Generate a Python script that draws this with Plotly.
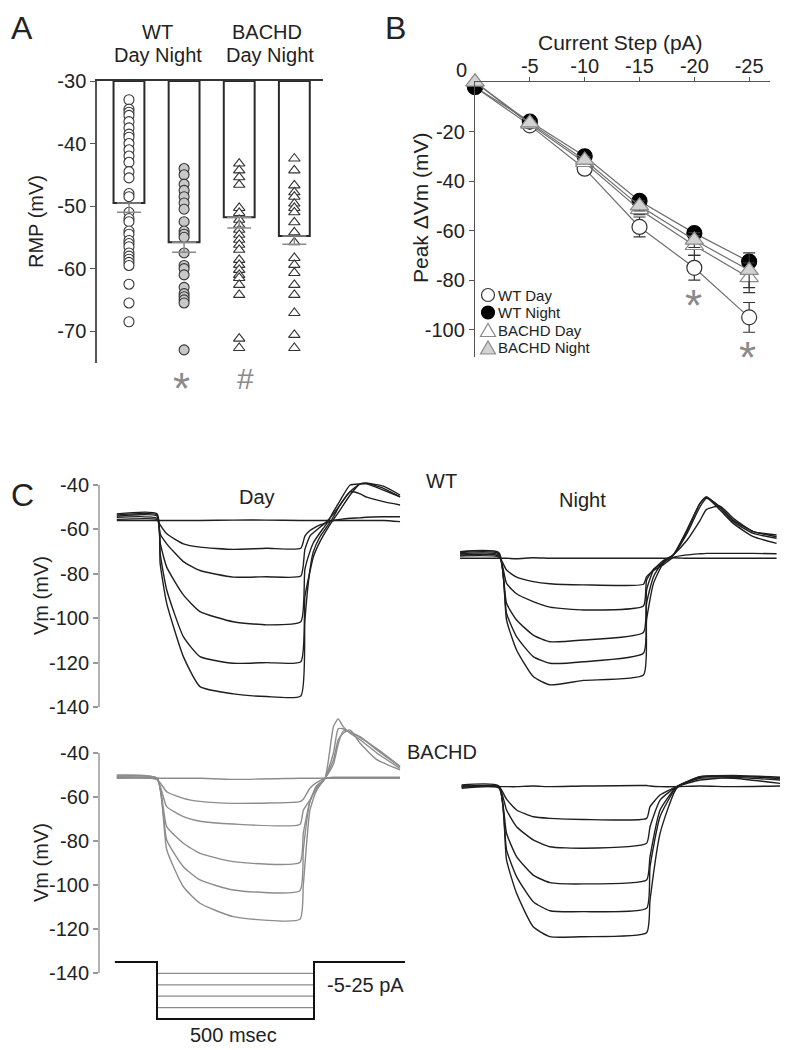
import plotly.graph_objects as go

W, H = 793, 1050
FONT = "Liberation Sans, Arial, sans-serif"
PAGE_OFFSET = 8  # default page margin of the html body


def dx(px):
    return (px - PAGE_OFFSET) / W


def dy(py):
    return 1 - (py - PAGE_OFFSET) / H


# ---------------- Panel A data ----------------
GROUPS = ["WT Day", "WT Night", "BACHD Day", "BACHD Night"]
RMP_MEAN = [-49.5, -55.8, -51.8, -54.8]
RMP_SEM = [1.5, 1.6, 1.7, 1.3]
WT_DAY_PTS = [-33, -34.5, -35, -35.5, -36.5, -37.5, -38.5, -39, -40, -41, -42, -43, -44.5,
              -45.5, -48, -48.5, -51, -52, -52.5, -54, -54.5, -55.5, -56, -56.5, -57.5, -58,
              -58.5, -59, -59.5, -62.5, -65.5, -68.5]
WT_NIGHT_PTS = [-44, -45, -46.5, -47.5, -48.5, -49.5, -50.5, -52.5, -54, -54.5, -55, -57.5,
                -59.5, -60, -61, -63, -64, -64.5, -65, -65.5, -73]
BACHD_DAY_PTS = [-43.2, -44.3, -45.4, -46.6, -50.3, -51.1, -52.2, -53, -53.8, -54.6, -55.4,
                 -56.2, -57, -58.6, -59.4, -60.2, -61, -61.5, -62.6, -64.2, -71.2, -72.7]
BACHD_NIGHT_PTS = [-42.4, -44.3, -46.7, -47.8, -48.5, -49.6, -50.3, -51, -52.6, -54.2, -55.8,
                   -58.3, -59.4, -60.7, -62.6, -64.2, -67.1, -70.6, -72.7]
RMP_TOP = -30
RMP_TICKS = [-30, -40, -50, -60, -70]

# ---------------- Panel B data ----------------
STEPS = [0, -5, -10, -15, -20, -25]
WT_DAY_B = [-2, -17.5, -35, -58.5, -75, -95]
WT_DAY_B_SE = [0, 1, 2, 4, 5, 6]
WT_NIGHT_B = [-2, -16, -30, -48, -61, -72.5]
WT_NIGHT_B_SE = [0, 1, 1, 1.5, 1.5, 2]
BACHD_DAY_B = [0, -17, -32.5, -51.5, -66, -79]
BACHD_DAY_B_SE = [0, 1, 1.5, 2, 4, 6]
BACHD_NIGHT_B = [0, -16.5, -31.5, -50, -63.8, -76]
BACHD_NIGHT_B_SE = [0, 1, 1.5, 2, 3, 7]
B_XTICKS = [-5, -10, -15, -20, -25]
B_YTICKS = [-20, -40, -60, -80, -100]

# ---------------- Panel C data (time in ms, Vm in mV) ----------------
C_YTICKS = [-40, -60, -80, -100, -120, -140]

T_WT_DAY = [-128, 0, 10, 31, 84, 137, 243, 349, 458, 471, 487, 498, 519, 540, 562, 583, 615,
            647, 668, 721, 774]
VM_WT_DAY = [
    [-56, -56, -56, -56, -56, -56, -55.8, -55.8, -56, -56, -56, -56, -56, -56, -56, -56, -56, -56, -56, -56, -56.5],
    [-55.5, -55.5, -58, -62, -66.5, -68, -69, -68.5, -68.5, -63, -60.5, -59.5, -58, -57, -56, -55.5, -55, -54.8, -54.5, -54.3, -54.3],
    [-54.5, -55, -62, -66.5, -74.5, -78.5, -81.5, -81.3, -81, -69, -63, -61.5, -59, -56.5, -53, -49, -43, -44, -45.5, -47.5, -49],
    [-54, -54, -66, -77, -89.5, -97, -101.6, -103, -101.6, -78, -70, -66, -61.5, -57.5, -52, -47, -40, -39.5, -39.5, -42.3, -45.3],
    [-53.5, -53.5, -70.8, -87.3, -108.3, -117.3, -120.3, -120, -119.6, -90.3, -79, -72.3, -65.5, -60.3, -55.5, -51.3, -44.5, -39.5, -39.2, -41.5, -45.3],
    [-53, -53, -75.3, -93.3, -117.3, -130.8, -134.1, -135.3, -135, -101, -78.3, -70, -63.3, -59, -54.3, -49, -43, -39.5, -39.2, -40.5, -44.5],
]

T_WT_NIGHT = [-124, 0, 24, 56, 109, 162, 269, 460, 470, 492, 523, 555, 598, 640, 661, 704,
              746, 810, 884]
VM_WT_NIGHT = [
    [-73, -73, -73, -73.2, -72.8, -73, -73, -73, -73, -73, -73, -72.8, -73, -73, -73, -73, -73, -73, -73],
    [-72, -72.5, -78.3, -81.5, -83.5, -84.5, -85, -84.7, -81.3, -78.5, -76, -72.6, -71.5, -71, -70.8, -70.8, -70.8, -70.8, -71],
    [-71.5, -72, -84.3, -89, -92.5, -95, -96.3, -94.5, -82.8, -78, -75, -71.5, -65, -56, -51, -49.5, -55, -61, -62.5],
    [-71, -71.5, -93.3, -100.8, -107.6, -110.6, -109.8, -106.4, -87.3, -78.3, -74, -71.5, -62, -49.8, -46, -49.8, -55.8, -61, -63.3],
    [-70.5, -71, -97.8, -108.3, -117.3, -120.3, -119.6, -115.8, -93.3, -81.3, -74.5, -71.5, -60.3, -48.3, -45.3, -50.5, -56.5, -61.8, -64],
    [-70, -70.5, -100.8, -114.3, -126.3, -130, -128, -125.6, -100.8, -84.3, -75.3, -71.5, -61, -48.3, -45.6, -51.3, -57.3, -63.3, -66.3],
]

T_BACHD_DAY = [-128, 0, 31, 84, 137, 243, 455, 466, 487, 508, 535, 562, 577, 593, 615, 647,
               700, 774]
VM_BACHD_DAY = [
    [-51, -51.5, -51.5, -51.5, -51.5, -52, -51.5, -51.5, -51.5, -51.5, -51.5, -51.5, -51.5, -51.5, -51.5, -51.5, -51.5, -51.5],
    [-51.5, -52, -57.6, -60.6, -62, -62.9, -62.1, -61, -56, -53.5, -51.5, -51, -51, -51, -51, -51, -51, -51],
    [-51, -52, -64.4, -68.9, -71, -72.3, -72.5, -66, -61.4, -56, -51.5, -45, -36, -30, -30.5, -33, -38, -46],
    [-50.5, -51.5, -73.5, -81, -85.6, -89.4, -89.8, -76.5, -62, -56, -51.5, -40, -29, -29, -30.5, -32.6, -38.6, -46.2],
    [-50.5, -51.5, -79.5, -91.7, -97.7, -102.3, -102.6, -84, -62, -55, -51.5, -28, -24.5, -28, -31, -34, -40, -47],
    [-50, -51.5, -84, -100.8, -108.3, -114.4, -115.6, -100, -66, -57, -51.5, -43.2, -34, -31, -29.5, -35.6, -43, -47.7],
]

T_BACHD_NIGHT = [-119, 0, 24, 56, 109, 162, 269, 470, 481, 513, 566, 640, 746, 895]
VM_BACHD_NIGHT = [
    [-55, -55.3, -55.3, -55.3, -55, -55.3, -55, -54.8, -55, -55.3, -55.3, -55, -55.3, -55],
    [-55, -55.3, -61, -65.9, -69, -69.7, -70.2, -69.7, -64.4, -59.1, -55.3, -52.3, -51.1, -52.3],
    [-55.5, -55.5, -65.9, -73.5, -79.5, -82.6, -83.3, -81, -73.5, -61.4, -55.3, -51.5, -51.5, -53.8],
    [-56, -56, -76.5, -87.1, -95.5, -98.9, -99.5, -97.7, -87.1, -65.9, -55.3, -50.8, -50.5, -51.5],
    [-55.5, -55.5, -84, -96.2, -107.6, -111.7, -112.1, -110.6, -91.7, -68.9, -55.6, -51.1, -50.5, -51.5],
    [-54.5, -55, -88.6, -103.8, -119, -123.5, -123.5, -121.7, -106.8, -76.5, -56, -50.8, -50.2, -51],
]

# Current-step protocol (pA) and its time course (ms)
STIM_LEVELS = [0, -5, -10, -15, -20, -25]
STIM_T = [-134, 0, 0, 500, 500, 790]

fig = go.Figure()

# ---------------- Panel A ----------------
fig.add_trace(go.Bar(
    x=GROUPS, y=[m - RMP_TOP for m in RMP_MEAN], base=RMP_TOP, width=0.56,
    marker=dict(color="white", line=dict(color="#2a2a2a", width=2)),
    xaxis="x", yaxis="y", showlegend=False))

pt_styles = [
    (WT_DAY_PTS, "circle", "white", 10),
    (WT_NIGHT_PTS, "circle", "#c8c8c8", 10),
    (BACHD_DAY_PTS, "triangle-up", "white", 10),
    (BACHD_NIGHT_PTS, "triangle-up", "white", 10),
]
for g, (pts, sym, fill, sz) in zip(GROUPS, pt_styles):
    fig.add_trace(go.Scatter(
        x=[g] * len(pts), y=pts, mode="markers", xaxis="x", yaxis="y",
        marker=dict(symbol=sym, size=sz, color=fill, line=dict(color="#333", width=1.1)),
        showlegend=False, cliponaxis=False))

fig.add_trace(go.Scatter(
    x=GROUPS, y=RMP_MEAN, mode="markers", xaxis="x", yaxis="y",
    marker=dict(size=1, color="rgba(0,0,0,0)"),
    error_y=dict(type="data", symmetric=False, array=[0] * 4, arrayminus=RMP_SEM,
                 color="#8a8a8a", thickness=1.5, width=12),
    showlegend=False))

# ---------------- Panel B ----------------
b_series = [
    ("WT Day", WT_DAY_B, WT_DAY_B_SE, "circle", "white", "#333", 15),
    ("WT Night", WT_NIGHT_B, WT_NIGHT_B_SE, "circle", "black", "black", 15),
    ("BACHD Day", BACHD_DAY_B, BACHD_DAY_B_SE, "triangle-up", "white", "#8a8a8a", 16),
    ("BACHD Night", BACHD_NIGHT_B, BACHD_NIGHT_B_SE, "triangle-up", "#d2d2d2", "#8a8a8a", 16),
]
for name, ys, se, sym, fill, lc, sz in b_series:
    fig.add_trace(go.Scatter(
        x=STEPS, y=ys, mode="lines+markers", name=name, xaxis="x2", yaxis="y2",
        line=dict(color="#6e6e6e", width=1.2),
        marker=dict(symbol=sym, size=sz, color=fill, line=dict(color=lc, width=1.2)),
        error_y=dict(type="data", array=se, color="#333", thickness=1.2, width=6),
        showlegend=False, cliponaxis=False))


# ---------------- Panel C ----------------
def add_traces(T, VMS, xa, ya, color):
    for vm in VMS:
        fig.add_trace(go.Scatter(
            x=T, y=vm, mode="lines", xaxis=xa, yaxis=ya,
            line=dict(color=color, width=1.4, shape="spline", smoothing=0.5),
            showlegend=False, hoverinfo="skip"))


add_traces(T_WT_DAY, VM_WT_DAY, "x3", "y3", "#1e1e1e")
add_traces(T_WT_NIGHT, VM_WT_NIGHT, "x4", "y4", "#1e1e1e")
add_traces(T_BACHD_DAY, VM_BACHD_DAY, "x5", "y5", "#8c8c8c")
add_traces(T_BACHD_NIGHT, VM_BACHD_NIGHT, "x6", "y6", "#1e1e1e")

# stimulus protocol
for lvl in STIM_LEVELS[1:-1]:
    fig.add_trace(go.Scatter(
        x=STIM_T, y=[0, 0, lvl, lvl, 0, 0], mode="lines", xaxis="x7", yaxis="y7",
        line=dict(color="#8c8c8c", width=1.2), showlegend=False, hoverinfo="skip"))
fig.add_trace(go.Scatter(
    x=STIM_T, y=[0, 0, STIM_LEVELS[-1], STIM_LEVELS[-1], 0, 0], mode="lines",
    xaxis="x7", yaxis="y7", line=dict(color="#111", width=2),
    showlegend=False, hoverinfo="skip"))

# ---------------- Layout ----------------
tickfont = dict(family=FONT, size=20, color="#222")
C_X_LEFT = [-184.7, 789.8]
C_X_RIGHT = [-187.9, 936.3]


def ticks(vals):
    return dict(tickvals=vals, ticktext=[str(v) for v in vals])


layout = dict(
    width=W, height=H, margin=dict(l=0, r=0, t=0, b=0, pad=0, autoexpand=False),
    paper_bgcolor="white", plot_bgcolor="rgba(0,0,0,0)",
    font=dict(family=FONT, color="#222"),
    showlegend=False,
    xaxis=dict(domain=[dx(97), dx(323)], anchor="y", type="category",
               range=[-0.58, 3.52], side="top", showline=True, linecolor="#333",
               linewidth=1.5, showticklabels=False, ticks="", showgrid=False,
               zeroline=False, automargin=False),
    yaxis=dict(domain=[dy(363), dy(81)], anchor="x", range=[-75.1, RMP_TOP],
               showline=True, linecolor="#555", linewidth=1.5, ticks="outside",
               ticklen=5, tickcolor="#555", tickfont=tickfont,
               showgrid=False, zeroline=False, automargin=False, **ticks(RMP_TICKS)),
    xaxis2=dict(domain=[dx(475), dx(770)], anchor="y2", range=[0, -26.9], side="top",
                showline=True, linecolor="#555", linewidth=1.3, ticks="outside",
                ticklen=4, tickcolor="#555", tickfont=tickfont, ticklabelstandoff=-4,
                showgrid=False, zeroline=False, automargin=False, **ticks(B_XTICKS)),
    yaxis2=dict(domain=[dy(357), dy(82)], anchor="x2", range=[-111, 0],
                showline=True, linecolor="#555", linewidth=1.3, ticks="outside",
                ticklen=5, tickcolor="#555", tickfont=tickfont,
                showgrid=False, zeroline=False, automargin=False, **ticks(B_YTICKS)),
    xaxis3=dict(domain=[dx(99), dx(405)], anchor="y3", range=C_X_LEFT, visible=False),
    yaxis3=dict(domain=[dy(707), dy(462.8)], anchor="x3", range=[-140, -30],
                showline=False, ticks="outside", ticklen=5, tickcolor="#999",
                tickwidth=1.5, tickfont=tickfont, showgrid=False, zeroline=False,
                automargin=False, **ticks(C_YTICKS)),
    xaxis4=dict(domain=[dx(440), dx(793)], anchor="y4", range=C_X_RIGHT, visible=False),
    yaxis4=dict(domain=[dy(707), dy(462.8)], anchor="x4", range=[-140, -30], visible=False),
    xaxis5=dict(domain=[dx(99), dx(405)], anchor="y5", range=C_X_LEFT, visible=False),
    yaxis5=dict(domain=[dy(973), dy(709)], anchor="x5", range=[-140, -20],
                showline=False, ticks="outside", ticklen=5, tickcolor="#999",
                tickwidth=1.5, tickfont=tickfont, showgrid=False, zeroline=False,
                automargin=False, **ticks(C_YTICKS)),
    xaxis6=dict(domain=[dx(440), dx(793)], anchor="y6", range=C_X_RIGHT, visible=False),
    yaxis6=dict(domain=[dy(973), dy(709)], anchor="x6", range=[-140, -20], visible=False),
    xaxis7=dict(domain=[dx(99), dx(405)], anchor="y7", range=C_X_LEFT, visible=False),
    yaxis7=dict(domain=[dy(1021.3), dy(959.7)], anchor="x7", range=[-26, 1], visible=False),
)


def ann(text, px, py, size=20, color="#222", angle=0, xanchor="center"):
    return dict(text=text, x=dx(px), y=dy(py), xref="paper", yref="paper",
                showarrow=False, xanchor=xanchor, yanchor="middle", textangle=angle,
                borderpad=0, font=dict(family=FONT, size=size, color=color))


annotations = [
    ann("A", 22, 28, 32),
    ann("WT", 157, 32), ann("Day Night", 158, 55),
    ann("BACHD", 267, 32), ann("Day Night", 270, 55),
    ann("RMP (mV)", 36, 222, angle=-90),
    ann("*", 181, 388, 44, "#8a8a8a"),
    ann("#", 245, 378, 30, "#8a8a8a"),
    ann("B", 395, 28, 32),
    ann("Current Step (pA)", 620, 42, 21),
    ann("0", 461, 70, 20),
    ann("Peak \u0394Vm (mV)", 420, 208, 21, angle=-90),
    ann("*", 693, 306, 44, "#8a8a8a"),
    ann("*", 747, 358, 44, "#8a8a8a"),
    ann("C", 22, 495, 32),
    ann("Day", 257, 497), ann("WT", 441, 481), ann("Night", 582, 500),
    ann("BACHD", 442, 752),
    ann("Vm (mV)", 41, 596, angle=-90),
    ann("Vm (mV)", 41, 863, angle=-90),
    ann("-5-25 pA", 365, 985), ann("500 msec", 233, 1035),
]
LEGEND_ROWS = ["WT Day", "WT Night", "BACHD Day", "BACHD Night"]
LEG_Y = [295, 312.5, 330, 347.5]
for name, yy in zip(LEGEND_ROWS, LEG_Y):
    annotations.append(ann(name, 497, yy, 15, xanchor="left"))
layout["annotations"] = annotations

shapes = [
    dict(type="line", xref="paper", yref="y3", x0=dx(99), x1=dx(99), y0=-40, y1=-140,
         line=dict(color="#999", width=1.5)),
    dict(type="line", xref="paper", yref="y5", x0=dx(99), x1=dx(99), y0=-40, y1=-140,
         line=dict(color="#999", width=1.5)),
]


def circ(cy, fill, lc):
    return dict(type="circle", xref="paper", yref="paper", x0=dx(481.5), x1=dx(494.5),
                y0=dy(cy + 6.5), y1=dy(cy - 6.5), fillcolor=fill, line=dict(color=lc, width=1.2))


def tri(cy, fill, lc):
    p = "M {:.5f},{:.5f} L {:.5f},{:.5f} L {:.5f},{:.5f} Z".format(
        dx(480.5), dy(cy + 6.5), dx(495.5), dy(cy + 6.5), dx(488), dy(cy - 6.5))
    return dict(type="path", xref="paper", yref="paper", path=p, fillcolor=fill,
                line=dict(color=lc, width=1.2))


shapes += [circ(LEG_Y[0], "white", "#333"), circ(LEG_Y[1], "black", "black"),
           tri(LEG_Y[2], "white", "#8a8a8a"), tri(LEG_Y[3], "#d2d2d2", "#8a8a8a")]
layout["shapes"] = shapes

fig.update_layout(**layout)
fig.write_html("out.html")
